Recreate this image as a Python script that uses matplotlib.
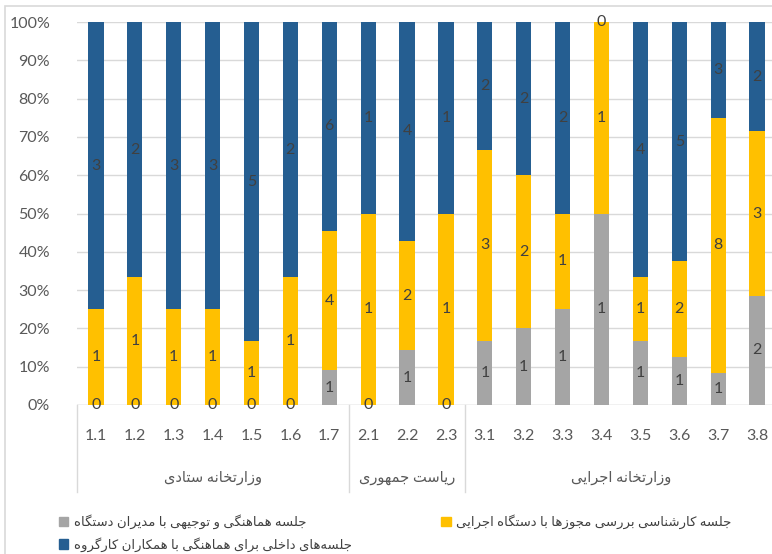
import numpy as np
import matplotlib
matplotlib.use("Agg")
import matplotlib.pyplot as plt
from matplotlib.patches import Patch, Rectangle
from matplotlib.lines import Line2D

categories = ["1.1", "1.2", "1.3", "1.4", "1.5", "1.6", "1.7",
              "2.1", "2.2", "2.3",
              "3.1", "3.2", "3.3", "3.4", "3.5", "3.6", "3.7", "3.8"]
gray_vals = [0, 0, 0, 0, 0, 0, 1, 0, 1, 0, 1, 1, 1, 1, 1, 1, 1, 2]
yellow_vals = [1, 1, 1, 1, 1, 1, 4, 1, 2, 1, 3, 2, 1, 1, 1, 2, 8, 3]
blue_vals = [3, 2, 3, 3, 5, 2, 6, 1, 4, 1, 2, 2, 2, 0, 4, 5, 3, 2]
groups = ["وزارتخانه ستادی", "ریاست جمهوری", "وزارتخانه اجرایی"]
group_sizes = [7, 3, 8]
series_names = ["جلسه هماهنگی و توجیهی با مدیران دستگاه",
                "جلسه کارشناسی بررسی مجوزها با دستگاه اجرایی",
                "جلسه\u200cهای داخلی برای هماهنگی با همکاران کارگروه"]
colors = ["#A5A5A5", "#FFC000", "#255E91"]

# minimal Persian shaping (matplotlib has no text shaping of its own)
FORMS = {
    'ا': ('\uFE8D', '\uFE8E', None, None),
    'ب': ('\uFE8F', '\uFE90', '\uFE91', '\uFE92'),
    'ت': ('\uFE95', '\uFE96', '\uFE97', '\uFE98'),
    'ج': ('\uFE9D', '\uFE9E', '\uFE9F', '\uFEA0'),
    'خ': ('\uFEA5', '\uFEA6', '\uFEA7', '\uFEA8'),
    'د': ('\uFEA9', '\uFEAA', None, None),
    'ر': ('\uFEAD', '\uFEAE', None, None),
    'ز': ('\uFEAF', '\uFEB0', None, None),
    'س': ('\uFEB1', '\uFEB2', '\uFEB3', '\uFEB4'),
    'ش': ('\uFEB5', '\uFEB6', '\uFEB7', '\uFEB8'),
    'ل': ('\uFEDD', '\uFEDE', '\uFEDF', '\uFEE0'),
    'م': ('\uFEE1', '\uFEE2', '\uFEE3', '\uFEE4'),
    'ن': ('\uFEE5', '\uFEE6', '\uFEE7', '\uFEE8'),
    'ه': ('\uFEE9', '\uFEEA', '\uFEEB', '\uFEEC'),
    'و': ('\uFEED', '\uFEEE', None, None),
    'ک': ('\uFB8E', '\uFB8F', '\uFB90', '\uFB91'),
    'گ': ('\uFB92', '\uFB93', '\uFB94', '\uFB95'),
    'ی': ('\uFBFC', '\uFBFD', '\uFBFE', '\uFBFF'),
}


def fa(text):
    out = []
    for i, c in enumerate(text):
        if c not in FORMS:
            out.append(c)
            continue
        prev = text[i - 1] if i > 0 else ''
        nxt = text[i + 1] if i < len(text) - 1 else ''
        jp = prev in FORMS and FORMS[prev][2] is not None
        jn = nxt in FORMS and FORMS[c][2] is not None
        iso, fin, ini, med = FORMS[c]
        if jp and jn:
            out.append(med)
        elif jp:
            out.append(fin)
        elif jn:
            out.append(ini)
        else:
            out.append(iso)
    return ''.join(out).replace('\u200c', '')[::-1]


plt.rcParams['font.family'] = ['Lato', 'DejaVu Sans']

W, H = 772, 554
fig = plt.figure(figsize=(W / 100, H / 100), dpi=100)
ax = fig.add_axes([76.5 / W, 149 / H, 700 / W, 383 / H])

x = np.arange(len(categories))
vals = np.array([gray_vals, yellow_vals, blue_vals], dtype=float)
tot = vals.sum(axis=0)
pct = vals / tot
bottom = np.zeros(len(categories))
for k in range(3):
    ax.bar(x, pct[k], 0.39, bottom=bottom, color=colors[k], zorder=3)
    for i in range(len(categories)):
        ax.text(x[i], bottom[i] + pct[k][i] / 2, f"{int(vals[k][i])}",
                ha='center', va='center', fontsize=11.5, color='#404040', zorder=4)
    bottom += pct[k]

ax.set_xlim(-0.5, len(categories) - 0.5)
ax.set_ylim(0, 1)
ax.set_yticks(np.linspace(0, 1, 11))
ax.set_yticklabels([f"{int(round(v * 100))}%" for v in np.linspace(0, 1, 11)],
                   fontsize=11.5, color='#595959')
ax.tick_params(axis='y', length=0, pad=19)
ax.grid(axis='y', color='#D9D9D9', lw=1, zorder=0)
for s in ax.spines.values():
    s.set_visible(False)
ax.axhline(0, color='#D9D9D9', lw=1, zorder=2)

ax.set_xticks(x)
ax.set_xticklabels(categories, fontsize=11.5, color='#595959')
ax.tick_params(axis='x', length=0, pad=17)

# group separators and labels
start = 0
bounds = [-0.5]
for gname, gs in zip(groups, group_sizes):
    center = start + (gs - 1) / 2
    ax.text(center, -0.19, fa(gname), ha='center', va='center', fontsize=10.5,
            color='#595959', transform=ax.get_xaxis_transform(), clip_on=False)
    start += gs
    bounds.append(start - 0.5)
for b in bounds:
    ax.add_line(Line2D([b, b], [0, -0.228], color='#D9D9D9', lw=1,
                       transform=ax.get_xaxis_transform(), clip_on=False))

# legend
handles = [Patch(color=colors[0]), Patch(color=colors[2]), Patch(color=colors[1])]
labels = [fa(series_names[0]), fa(series_names[2]), fa(series_names[1])]
fig.legend(handles, labels, ncol=2, loc='upper left', bbox_to_anchor=(50 / W, 1 - 505 / H),
           frameon=False, fontsize=9.5, handlelength=0.7, handleheight=0.7,
           handletextpad=0.4, columnspacing=6.8, labelspacing=0.6, labelcolor='#404040',
           borderpad=0.2)

# chart border
fig.patches.append(Rectangle((5 / W, -0.1), 1.2, 1 - 6 / H + 0.1, transform=fig.transFigure,
                             fill=False, edgecolor='#D9D9D9', lw=1.2))

fig.savefig("out.png", dpi=100)
